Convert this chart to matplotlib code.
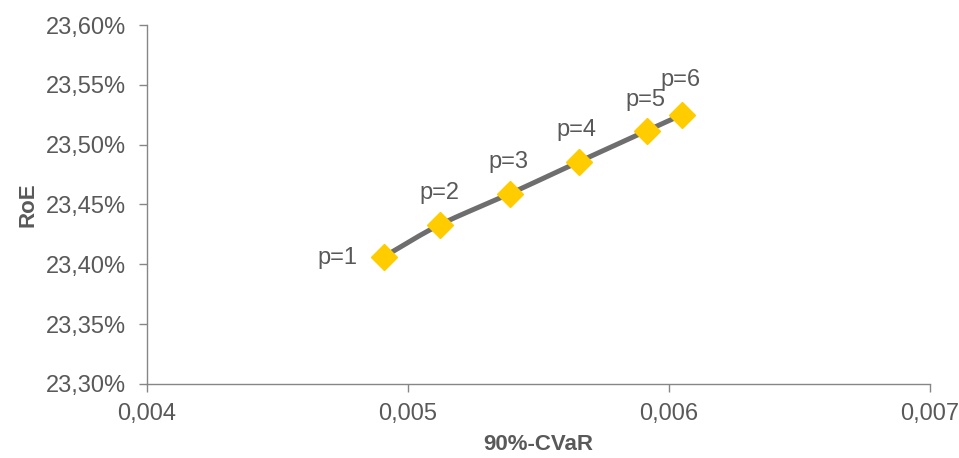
import numpy as np
import matplotlib
matplotlib.use("Agg")
import matplotlib.pyplot as plt
from matplotlib.ticker import FuncFormatter

cvar = [0.004908, 0.005123, 0.005391, 0.005655, 0.005916, 0.006050]
roe = [23.4062, 23.4330, 23.4589, 23.4856, 23.5115, 23.5249]
labels = ["p=1", "p=2", "p=3", "p=4", "p=5", "p=6"]
xticks = [0.004, 0.005, 0.006, 0.007]
yticks = [23.30, 23.35, 23.40, 23.45, 23.50, 23.55, 23.60]

plt.rcParams['font.family'] = ['Liberation Sans', 'DejaVu Sans']
TXT = '#595959'
SPINE = '#868686'

fig = plt.figure(figsize=(9.59, 4.58), dpi=100)
ax = fig.add_axes([0.1528, 0.1616, 0.8165, 0.7838])


def catmull_rom(xs, ys, n=30):
    P = np.column_stack([xs, ys]).astype(float)
    sc = np.array([1.0 / (xs[-1] - xs[0]), 1.0 / (ys[-1] - ys[0])])
    Q = P * sc
    Q = np.vstack([2 * Q[0] - Q[1], Q, 2 * Q[-1] - Q[-2]])
    out = []
    for i in range(1, len(Q) - 2):
        p0, p1, p2, p3 = Q[i - 1], Q[i], Q[i + 1], Q[i + 2]
        t = np.linspace(0, 1, n)[:, None]
        seg = 0.5 * ((2 * p1) + (-p0 + p2) * t + (2 * p0 - 5 * p1 + 4 * p2 - p3) * t ** 2
                     + (-p0 + 3 * p1 - 3 * p2 + p3) * t ** 3)
        out.append(seg)
    C = np.vstack(out) / sc
    return C[:, 0], C[:, 1]


sx, sy = catmull_rom(cvar, roe)
ax.plot(sx, sy, color='#6e6e6e', lw=3.6, solid_capstyle='round', zorder=2)
ax.plot(cvar, roe, ls='none', marker='D', ms=13, color='#FFCC00',
        markeredgecolor='#FFCC00', zorder=3)

offsets = [(-66, -1), (-20, 32), (-21, 32), (-22, 32), (-21, 31), (-21, 35)]
for x, y, lab, (dx, dy) in zip(cvar, roe, labels, offsets):
    ax.annotate(lab, (x, y), xytext=(dx * 0.72, dy * 0.72), textcoords='offset points',
                fontsize=17, color=TXT, ha='left', va='center')

ax.set_xlim(0.004, 0.007)
ax.set_ylim(23.30, 23.60)
ax.set_xticks(xticks)
ax.set_yticks(yticks)
ax.xaxis.set_major_formatter(FuncFormatter(lambda v, p: f"{v:.3f}".replace('.', ',')))
ax.yaxis.set_major_formatter(FuncFormatter(lambda v, p: f"{v:.2f}%".replace('.', ',')))
ax.tick_params(axis='both', colors=SPINE, labelcolor=TXT, labelsize=17, length=6, width=1, direction='out')
ax.tick_params(axis='y', pad=9)
ax.tick_params(axis='x', pad=8)
for s in ['top', 'right']:
    ax.spines[s].set_visible(False)
for s in ['left', 'bottom']:
    ax.spines[s].set_color(SPINE)
    ax.spines[s].set_linewidth(1)

ax.set_xlabel('90%-CVaR', fontsize=16, fontweight='bold', color=TXT, labelpad=6)
ax.set_ylabel('RoE', fontsize=16, fontweight='bold', color=TXT, labelpad=5)

fig.savefig('out.png', dpi=100)
